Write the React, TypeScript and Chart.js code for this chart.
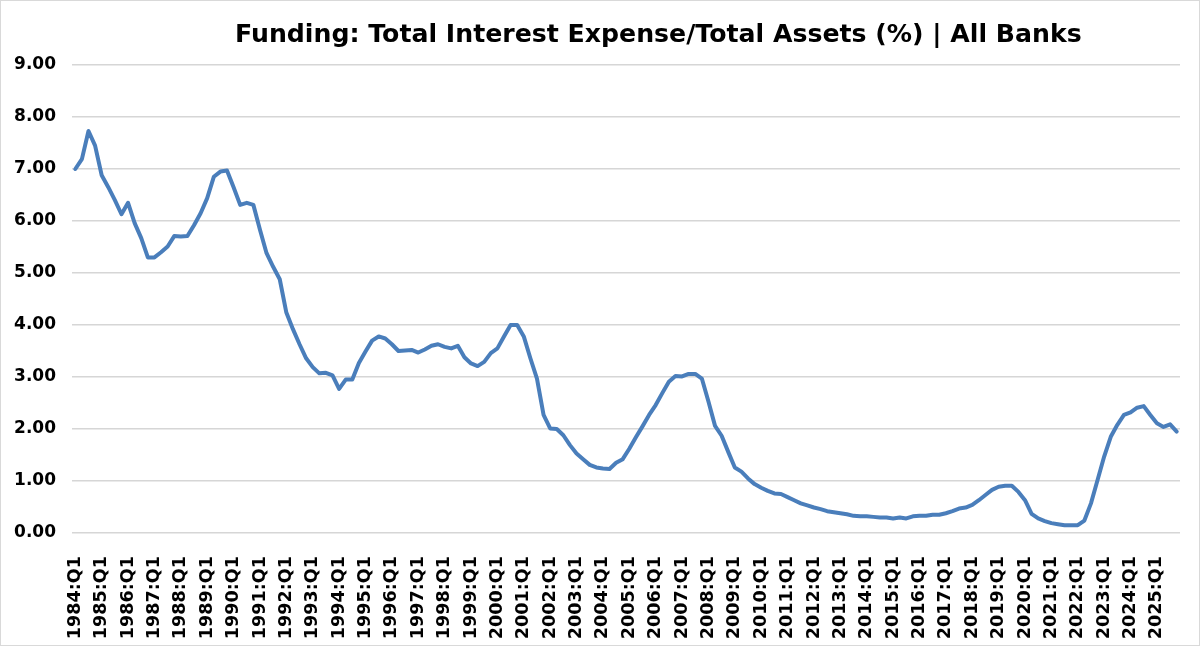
import React, { useEffect, useRef } from "react";
import { Chart, registerables } from "chart.js";

Chart.register(...registerables);

const TITLE = "Funding: Total Interest Expense/Total Assets (%) | All Banks";

const FIRST_YEAR = 1984;
const LAST_YEAR = 2025;
const QUARTERS = ["Q1", "Q2", "Q3", "Q4"];

const values1980s = [
  7.0, 7.19, 7.73, 7.45,
  6.88, 6.65, 6.4, 6.13,
  6.35, 5.96, 5.67, 5.3,
  5.3, 5.4, 5.51, 5.71,
  5.7, 5.71, 5.92, 6.15,
  6.44, 6.85, 6.95, 6.97,
];
const values1990s = [
  6.65, 6.31, 6.35, 6.31,
  5.83, 5.38, 5.12, 4.88,
  4.24, 3.92, 3.63, 3.36,
  3.19, 3.07, 3.08, 3.03,
  2.77, 2.95, 2.95, 3.27,
  3.49, 3.7, 3.78, 3.74,
  3.63, 3.5, 3.51, 3.52,
  3.47, 3.53, 3.6, 3.63,
  3.58, 3.55, 3.6, 3.38,
  3.26, 3.21, 3.29, 3.46,
];
const values2000s = [
  3.55, 3.78, 4.0, 4.0,
  3.78, 3.36, 2.97, 2.27,
  2.01, 2.0, 1.88, 1.69,
  1.53, 1.42, 1.31, 1.26,
  1.24, 1.23, 1.35, 1.42,
  1.62, 1.84, 2.05, 2.27,
  2.46, 2.69, 2.91, 3.02,
  3.01, 3.06, 3.06, 2.97,
  2.53, 2.06, 1.87, 1.56,
  1.26, 1.18, 1.05, 0.94,
];
const values2010s = [
  0.87, 0.81, 0.76, 0.75,
  0.69, 0.63, 0.57, 0.53,
  0.49, 0.46, 0.42, 0.4,
  0.38, 0.36, 0.33, 0.32,
  0.32, 0.31, 0.3, 0.3,
  0.28, 0.3, 0.28, 0.32,
  0.33, 0.33, 0.35, 0.35,
  0.38, 0.42, 0.47, 0.49,
  0.54, 0.63, 0.73, 0.83,
  0.89, 0.91, 0.91, 0.79,
];
const values2020s = [
  0.63, 0.37, 0.28, 0.23,
  0.19, 0.17, 0.15, 0.15,
  0.15, 0.24, 0.57, 1.02,
  1.47, 1.85, 2.08, 2.27,
  2.32, 2.41, 2.44, 2.27,
  2.11, 2.04, 2.09, 1.95,
];

const yTicks = [0, 1, 2, 3, 4, 5, 6, 7, 8, 9];

const categories: string[] = [];
for (let y = FIRST_YEAR; y <= LAST_YEAR; y++) {
  for (const q of QUARTERS) categories.push(`${y}:${q}`);
}
const seriesValues = [
  ...values1980s,
  ...values1990s,
  ...values2000s,
  ...values2010s,
  ...values2020s,
];

const FONT = "'DejaVu Sans', Verdana, sans-serif";

export default function App() {
  const canvasRef = useRef<HTMLCanvasElement | null>(null);

  useEffect(() => {
    document.body.style.margin = "0";
    const canvas = canvasRef.current;
    if (!canvas) return;
    const chart = new Chart(canvas, {
      type: "line",
      data: {
        labels: categories,
        datasets: [
          {
            data: seriesValues,
            borderColor: "#4a7ebb",
            backgroundColor: "#4a7ebb",
            borderWidth: 4,
            pointRadius: 0,
            tension: 0,
            borderJoinStyle: "round",
            borderCapStyle: "round",
          },
        ],
      },
      options: {
        responsive: false,
        animation: false,
        devicePixelRatio: 1,
        layout: { padding: { top: 65, right: 20, bottom: 0, left: 0 } },
        plugins: {
          legend: { display: false },
          title: { display: false },
          tooltip: { enabled: false },
        },
        scales: {
          x: {
            type: "category",
            offset: true,
            grid: { display: false },
            border: { display: false },
            ticks: {
              autoSkip: false,
              maxRotation: 90,
              minRotation: 90,
              padding: 15,
              color: "#000",
              font: { family: FONT, size: 17.6, weight: "bold" },
              callback: (_v: any, i: number) => (i % 4 === 0 ? categories[i] : ""),
            },
            afterFit: (scale: any) => {
              scale.height = 113;
              scale.paddingLeft = 0;
              scale.paddingRight = 0;
            },
          },
          y: {
            min: 0,
            max: 9,
            afterBuildTicks: (scale: any) => {
              scale.ticks = yTicks.map((v) => ({ value: v }));
            },
            grid: { color: "#d6d6d6", lineWidth: 1.5, drawTicks: false },
            border: { display: false },
            ticks: {
              padding: 16,
              color: "#000",
              font: { family: FONT, size: 17, weight: "bold" },
              callback: (v: any) => Number(v).toFixed(2),
            },
            afterFit: (scale: any) => {
              scale.width = 72;
              scale.paddingTop = 0;
              scale.paddingBottom = 0;
            },
          },
        },
      },
    });
    return () => chart.destroy();
  }, []);

  return (
    <div style={{ position: "relative", width: 1200, height: 646, background: "#fff", overflow: "hidden" }}>
      <canvas ref={canvasRef} width={1200} height={646} style={{ display: "block" }} />
      <div
        style={{
          position: "absolute",
          left: 235,
          top: 20,
          textAlign: "left",
          fontFamily: FONT,
          fontWeight: "bold",
          fontSize: 25.2,
          lineHeight: "28px",
          color: "#000",
          whiteSpace: "nowrap",
        }}
      >
        {TITLE}
      </div>
      <div
        style={{
          position: "absolute",
          inset: 0,
          border: "1px solid #d9d9d9",
          pointerEvents: "none",
        }}
      />
    </div>
  );
}
